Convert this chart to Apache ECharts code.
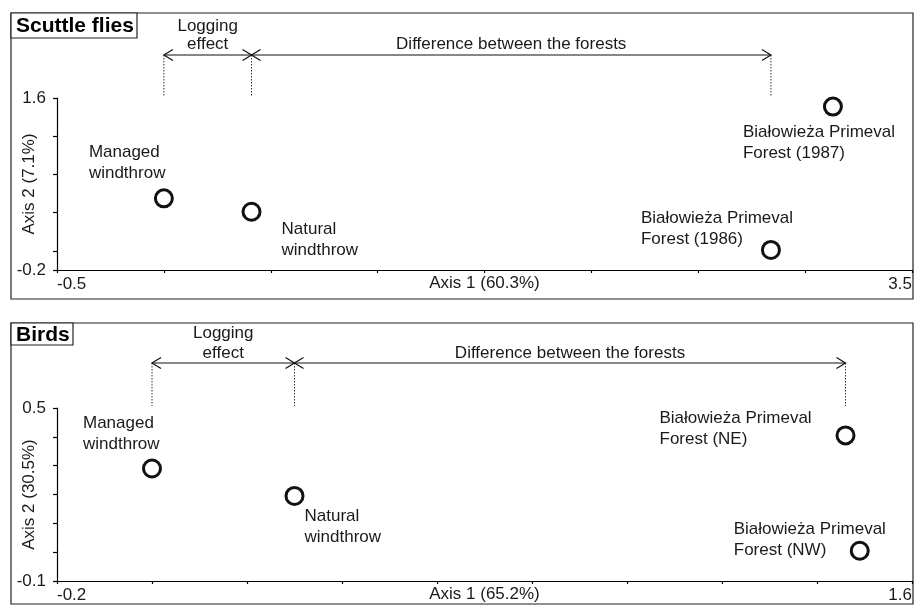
<!DOCTYPE html>
<html>
<head>
<meta charset="utf-8">
<script src="https://cdn.jsdelivr.net/npm/echarts@6/dist/echarts.min.js"></script>
<style>
  html, body { margin: 0; padding: 0; background: #fff; }
  #chart { width: 921px; height: 607px; }
</style>
</head>
<body>
<div id="chart"></div>
<script>
// Ordination scores (Axis 1, Axis 2) for each site group
const scuttleNames = ['Managed\nwindthrow', 'Natural\nwindthrow', 'Białowieża Primeval\nForest (1987)', 'Białowieża Primeval\nForest (1986)'];
const scuttleAxis1 = [0.0, 0.41, 3.13, 2.84];
const scuttleAxis2 = [0.55, 0.41, 1.51, 0.01];

const birdNames = ['Managed\nwindthrow', 'Natural\nwindthrow', 'Białowieża Primeval\nForest (NE)', 'Białowieża Primeval\nForest (NW)'];
const birdAxis1 = [0.0, 0.30, 1.46, 1.49];
const birdAxis2 = [0.29, 0.195, 0.405, 0.005];

// Axis ranges and tick positions
const scuttleXRange = [-0.5, 3.5];
const scuttleYRange = [-0.2, 1.6];
const scuttleXTickMarks = [-0.5, 0, 0.5, 1, 1.5, 2, 2.5, 3, 3.5];
const scuttleYTickMarks = [-0.2, 0, 0.4, 0.8, 1.2, 1.6];
const birdXRange = [-0.2, 1.6];
const birdYRange = [-0.1, 0.5];
const birdXTickMarks = [-0.2, 0, 0.2, 0.4, 0.6, 0.8, 1.0, 1.2, 1.4, 1.6];
const birdYTickMarks = [-0.1, 0, 0.1, 0.2, 0.3, 0.4, 0.5];

const panelTitles = ['Scuttle flies', 'Birds'];
const axis1Names = ['Axis 1 (60.3%)', 'Axis 1 (65.2%)'];
const axis2Names = ['Axis 2 (7.1%)', 'Axis 2 (30.5%)'];
const bracketTexts = ['Logging\neffect', 'Difference between the forests'];

// Which points the comparison brackets span: managed, natural, primeval forest
const scuttleBracket = [0, 1, 3];
const birdBracket = [0, 1, 2];

const FONT = '"Liberation Sans", Arial, Helvetica, sans-serif';
const INK = '#1a1a1a';
const FS = 17;

// Label placement around each circle: [dx, dy] from the circle centre to the text block's left/middle
const scuttleLabelOffsets = [[-75, -36], [30, 28], [-90, 36], [-130, -21]];
const birdLabelOffsets = [[-69, -35], [10, 31], [-186, -7], [-126, -11]];

function fmt(v) {
  return String(Math.round(v * 10) / 10);
}

function makeAxes(idx, xRange, yRange, xTicks, yTicks) {
  const x = {
    type: 'value', gridIndex: idx, min: xRange[0], max: xRange[1],
    name: axis1Names[idx], nameLocation: 'middle', nameGap: 5, nameMoveOverlap: false,
    nameTextStyle: { fontFamily: FONT, fontSize: FS, color: INK, verticalAlign: 'top' },
    axisLine: { show: true, onZero: false, lineStyle: { color: '#000', width: 1.2 } },
    axisTick: { show: true, length: 3, customValues: xTicks, lineStyle: { color: '#000', width: 1.2 } },
    axisLabel: {
      show: true, customValues: xRange, margin: 6, formatter: fmt,
      fontFamily: FONT, fontSize: FS, color: INK,
      alignMinLabel: 'left', alignMaxLabel: 'right', hideOverlap: false
    },
    splitLine: { show: false }
  };
  const y = {
    type: 'value', gridIndex: idx, min: yRange[0], max: yRange[1],
    name: axis2Names[idx], nameLocation: 'middle', nameGap: 19, nameMoveOverlap: false,
    nameTextStyle: { fontFamily: FONT, fontSize: FS, color: INK },
    axisLine: { show: true, onZero: false, lineStyle: { color: '#000', width: 1.2 } },
    axisTick: { show: true, length: 4, customValues: yTicks, lineStyle: { color: '#000', width: 1.2 } },
    axisLabel: {
      show: true, customValues: yRange, margin: 11, formatter: fmt,
      fontFamily: FONT, fontSize: FS, color: INK, hideOverlap: false
    },
    splitLine: { show: false }
  };
  return [x, y];
}

function scatterSeries(idx, names, xs, ys, offsets) {
  return {
    type: 'scatter', xAxisIndex: idx, yAxisIndex: idx, z: 3,
    symbol: 'circle', symbolSize: 17,
    itemStyle: { color: '#fff', borderColor: '#111', borderWidth: 3, opacity: 1 },
    data: names.map((n, i) => ({
      name: n,
      value: [xs[i], ys[i]],
      label: { offset: offsets[i] }
    })),
    label: {
      show: true, position: 'inside', align: 'left', verticalAlign: 'middle',
      formatter: p => p.name,
      fontFamily: FONT, fontSize: FS, lineHeight: 21, color: INK
    },
    emphasis: { disabled: true }
  };
}

// Brackets above the plot: dotted drop lines, double-headed arrows and their captions
function bracketSeries(idx, xs, ends, yMax, lift, capLine, capGap) {
  return {
    type: 'custom', xAxisIndex: idx, yAxisIndex: idx, z: 2, silent: true,
    data: [[xs[ends[0]], xs[ends[1]], xs[ends[2]]]],
    renderItem(params, api) {
      const pts = [0, 1, 2].map(i => api.coord([api.value(i), yMax]));
      const top = pts[0][1];
      const ay = top - lift;
      const xL = pts[0][0], xM = pts[1][0], xR = pts[2][0];
      const hw = 9, hh = 5.5;
      const dotted = { stroke: '#333', lineWidth: 1, lineDash: [1.5, 1.5] };
      const solid = { stroke: '#111', lineWidth: 1.2, fill: null };
      const head = (x, dir) => ({
        type: 'polyline',
        shape: { points: [[x + dir * hw, ay - hh], [x, ay], [x + dir * hw, ay + hh]] },
        style: solid
      });
      const caption = (text, x) => ({
        type: 'text',
        style: {
          text: text, x: x, y: ay - capGap,
          align: 'center', verticalAlign: 'bottom',
          font: FS + 'px ' + FONT, lineHeight: capLine, fill: INK
        }
      });
      return {
        type: 'group',
        children: [
          ...[xL, xM, xR].map(x => ({
            type: 'line', shape: { x1: x, y1: ay, x2: x, y2: top - 2 }, style: dotted
          })),
          { type: 'line', shape: { x1: xL, y1: ay, x2: xR, y2: ay }, style: solid },
          head(xL, 1), head(xM, -1), head(xM, 1), head(xR, -1),
          caption(bracketTexts[0], (xL + xM) / 2),
          caption(bracketTexts[1], (xM + xR) / 2)
        ]
      };
    }
  };
}

const [x0, y0] = makeAxes(0, scuttleXRange, scuttleYRange, scuttleXTickMarks, scuttleYTickMarks);
const [x1, y1] = makeAxes(1, birdXRange, birdYRange, birdXTickMarks, birdYTickMarks);

// Panel frames and boxed panel titles
function panelGraphics(top, height, titleW, titleH, title) {
  return [
    { type: 'rect', shape: { x: 11, y: top, width: 902, height: height },
      style: { fill: null, stroke: '#222', lineWidth: 1.2 }, silent: true },
    { type: 'rect', shape: { x: 11, y: top, width: titleW, height: titleH },
      style: { fill: '#fff', stroke: '#222', lineWidth: 1.2 }, silent: true, z: 10 },
    { type: 'text', x: 16, y: top + titleH / 2 + 1, z: 11, silent: true,
      style: { text: title, font: 'bold 21px ' + FONT, fill: '#000', verticalAlign: 'middle' } }
  ];
}

const chart = echarts.init(document.getElementById('chart'), null, { renderer: 'canvas' });
chart.setOption({
  backgroundColor: '#fff',
  animation: false,
  grid: [
    { left: 57, right: 9, top: 98, bottom: 337, containLabel: false, outerBoundsMode: 'none' },
    { left: 57, right: 9, top: 408, bottom: 26, containLabel: false, outerBoundsMode: 'none' }
  ],
  xAxis: [x0, x1],
  yAxis: [y0, y1],
  graphic: [
    ...panelGraphics(13, 286, 126, 25, panelTitles[0]),
    ...panelGraphics(323, 281, 62, 22, panelTitles[1])
  ],
  series: [
    scatterSeries(0, scuttleNames, scuttleAxis1, scuttleAxis2, scuttleLabelOffsets),
    scatterSeries(1, birdNames, birdAxis1, birdAxis2, birdLabelOffsets),
    bracketSeries(0, scuttleAxis1, scuttleBracket, scuttleYRange[1], 43, 18, 2),
    bracketSeries(1, birdAxis1, birdBracket, birdYRange[1], 45, 20, 0)
  ]
});
</script>
</body>
</html>
